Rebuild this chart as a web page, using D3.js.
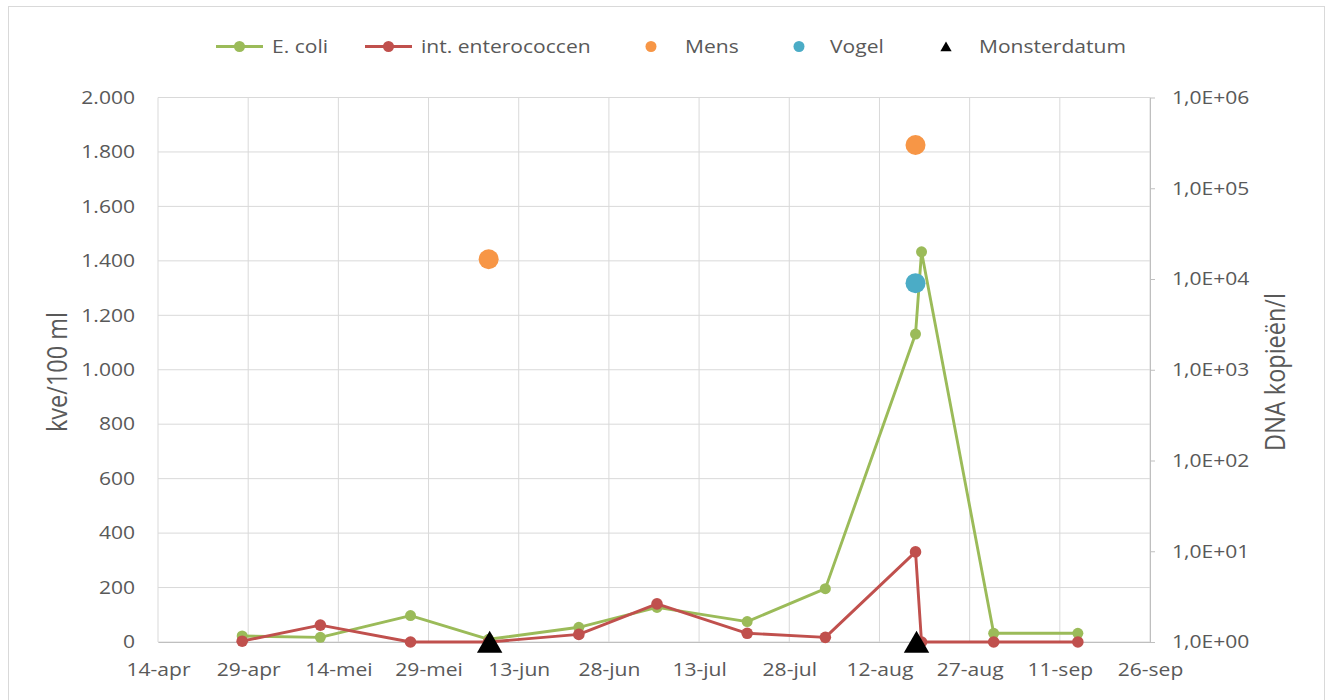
<!DOCTYPE html>
<html>
<head>
<meta charset="utf-8">
<script src="https://cdn.jsdelivr.net/npm/d3@7"></script>
<style>
body { margin: 0; background: #fff; }
svg text { font-family: "Open Sans", sans-serif; fill: #595959; }
</style>
</head>
<body>
<svg id="chart" width="1330" height="700"></svg>
<script>
// meetdata
const sampleDates = ['2019-04-28', '2019-05-11', '2019-05-26', '2019-06-08', '2019-06-23', '2019-07-06',
    '2019-07-21', '2019-08-03', '2019-08-18', '2019-08-19', '2019-08-31', '2019-09-14'];
const eColi = [22, 17, 97, 10, 54, 127, 75, 196, 1131, 1433, 32, 32];
const enterococcen = [3, 62, 0, 0, 28, 140, 32, 17, 331, 0, 0, 0];
const mensDates = ['2019-06-08', '2019-08-18'];
const mensValues = [16500, 300000];
const vogelDates = ['2019-08-18'];
const vogelValues = [9000];
const monsterDates = ['2019-06-08', '2019-08-18'];

const xTicks = ['2019-04-14', '2019-04-29', '2019-05-14', '2019-05-29', '2019-06-13', '2019-06-28',
    '2019-07-13', '2019-07-28', '2019-08-12', '2019-08-27', '2019-09-11', '2019-09-26'];
const leftTicks = [0, 200, 400, 600, 800, 1000, 1200, 1400, 1600, 1800, 2000];
const rightTicks = [1, 10, 100, 1000, 10000, 100000, 1000000];
const legendLabels = ['E. coli', 'int. enterococcen', 'Mens', 'Vogel', 'Monsterdatum'];

const greenColor = '#9BBB59',
    redColor = '#C0504D',
    orangeColor = '#F79646',
    blueColor = '#4BACC6',
    gridColor = '#d9d9d9',
    axisColor = '#bfbfbf',
    stretch = 1.17;

const parse = d3.utcParse('%Y-%m-%d');
const nl = d3.formatLocale({decimal: ',', thousands: '.', grouping: [3], currency: ['€', '']});
const nlTime = d3.timeFormatLocale({
    dateTime: '%a %e %B %Y %X', date: '%d-%m-%Y', time: '%H:%M:%S', periods: ['AM', 'PM'],
    days: ['zondag', 'maandag', 'dinsdag', 'woensdag', 'donderdag', 'vrijdag', 'zaterdag'],
    shortDays: ['zo', 'ma', 'di', 'wo', 'do', 'vr', 'za'],
    months: ['januari', 'februari', 'maart', 'april', 'mei', 'juni', 'juli', 'augustus', 'september', 'oktober', 'november', 'december'],
    shortMonths: ['jan', 'feb', 'mrt', 'apr', 'mei', 'jun', 'jul', 'aug', 'sep', 'okt', 'nov', 'dec']
});

const svg = d3.select('#chart'),
    margin = {top: 97.5, right: 180, bottom: 58, left: 158},
    width = 1330 - margin.left - margin.right,
    height = 700 - margin.top - margin.bottom;

// rand om de grafiek
svg.append('rect')
    .attr('x', 8.5).attr('y', 6.5).attr('width', 1316).attr('height', 700)
    .attr('fill', 'none').attr('stroke', gridColor);

const g = svg.append('g').attr('transform', 'translate(' + margin.left + ',' + margin.top + ')');

const xScale = d3.scaleUtc().domain([parse(xTicks[0]), parse(xTicks[xTicks.length - 1])]).range([0, width]);
const yLeft = d3.scaleLinear().domain([0, 2000]).range([height, 0]);
const yRight = d3.scaleLog().domain([1, 1000000]).range([height, 0]);

// tekst iets breder maken, zoals in het origineel
function stretchText(sel) {
    sel.each(function () {
        const t = d3.select(this);
        const x = +t.attr('x') || 0;
        t.attr('x', 0).attr('transform', 'translate(' + x + ',0) scale(' + stretch + ',1)');
    });
}

// gridlijnen
g.append('g').selectAll('line').data(leftTicks).join('line')
    .attr('x1', 0).attr('x2', width)
    .attr('y1', d => yLeft(d)).attr('y2', d => yLeft(d))
    .attr('stroke', gridColor);
g.append('g').selectAll('line').data(xTicks).join('line')
    .attr('x1', d => xScale(parse(d))).attr('x2', d => xScale(parse(d)))
    .attr('y1', 0).attr('y2', height)
    .attr('stroke', gridColor);

// assen
g.append('g')
    .call(d3.axisLeft(yLeft).tickValues(leftTicks).tickSize(0).tickPadding(23).tickFormat(nl.format(',')))
    .call(function (a) {
        a.select('.domain').remove();
        a.selectAll('.tick text').style('font-size', '18px').call(stretchText);
    });

g.append('g').attr('transform', 'translate(' + width + ',0)')
    .call(d3.axisRight(yRight).tickValues(rightTicks).tickSize(5).tickSizeOuter(0).tickPadding(17)
        .tickFormat(d => '1,0E+' + String(Math.round(Math.log10(d))).padStart(2, '0')))
    .call(function (a) {
        a.select('.domain').attr('stroke', axisColor);
        a.selectAll('.tick line').attr('stroke', axisColor);
        a.selectAll('.tick text').style('font-size', '18px').call(stretchText);
    });

g.append('g').attr('transform', 'translate(0,' + height + ')')
    .call(d3.axisBottom(xScale).tickValues(xTicks.map(parse)).tickSize(0).tickPadding(21)
        .tickFormat(nlTime.utcFormat('%-d-%b')))
    .call(function (a) {
        a.select('.domain').attr('stroke', axisColor);
        a.selectAll('.tick text').style('font-size', '18px').call(stretchText);
    });

// astitels
svg.append('text')
    .attr('transform', 'translate(67,372) scale(' + stretch + ',1) rotate(-90)')
    .attr('text-anchor', 'middle').style('font-size', '23.5px')
    .text('kve/100 ml');
svg.append('text')
    .attr('transform', 'translate(1285,372) scale(' + stretch + ',1) rotate(-90)')
    .attr('text-anchor', 'middle').style('font-size', '23.5px')
    .text('DNA kopieën/l');

// lijnen met markers
const series = [
    {values: eColi, color: greenColor, r: 5.5},
    {values: enterococcen, color: redColor, r: 5.8}
];
series.forEach(function (s) {
    const pts = sampleDates.map((d, i) => [parse(d), s.values[i]]);
    g.append('path').datum(pts)
        .attr('fill', 'none').attr('stroke', s.color).attr('stroke-width', 2.9)
        .attr('stroke-linejoin', 'round')
        .attr('d', d3.line().x(d => xScale(d[0])).y(d => yLeft(d[1])));
    g.append('g').selectAll('circle').data(pts).join('circle')
        .attr('cx', d => xScale(d[0])).attr('cy', d => yLeft(d[1]))
        .attr('r', s.r).attr('fill', s.color);
});

// DNA metingen (secundaire as)
g.append('g').selectAll('circle').data(mensDates).join('circle')
    .attr('cx', d => xScale(parse(d))).attr('cy', (d, i) => yRight(mensValues[i]))
    .attr('r', 10).attr('fill', orangeColor);
g.append('g').selectAll('circle').data(vogelDates).join('circle')
    .attr('cx', d => xScale(parse(d))).attr('cy', (d, i) => yRight(vogelValues[i]))
    .attr('r', 10).attr('fill', blueColor);

const bigTriangle = d3.symbol(d3.symbolTriangle).size(280);
g.append('g').selectAll('path').data(monsterDates).join('path')
    .attr('transform', d => 'translate(' + (xScale(parse(d)) + 1) + ',' + (yLeft(0) + 3.5) + ')')
    .attr('d', bigTriangle).attr('fill', '#000');

// legenda
const legend = svg.append('g').attr('transform', 'translate(0,46.5)');
const lineItems = [{x: 216, color: greenColor}, {x: 365, color: redColor}];
lineItems.forEach(function (it) {
    legend.append('line').attr('x1', it.x).attr('x2', it.x + 47).attr('y1', 0).attr('y2', 0)
        .attr('stroke', it.color).attr('stroke-width', 2.9);
    legend.append('circle').attr('cx', it.x + 23.5).attr('cy', 0).attr('r', 5.5).attr('fill', it.color);
});
legend.append('circle').attr('cx', 651).attr('cy', 0).attr('r', 5.5).attr('fill', orangeColor);
legend.append('circle').attr('cx', 799).attr('cy', 0).attr('r', 5.5).attr('fill', blueColor);
legend.append('path').attr('transform', 'translate(946,1.5)')
    .attr('d', d3.symbol(d3.symbolTriangle).size(55)).attr('fill', '#000');

const legendX = [272, 421, 685, 830, 979];
legend.selectAll('text.lbl').data(legendLabels).join('text')
    .attr('class', 'lbl')
    .attr('transform', (d, i) => 'translate(' + legendX[i] + ',6.5) scale(' + stretch + ',1)')
    .style('font-size', '18px')
    .text(d => d);
</script>
</body>
</html>
